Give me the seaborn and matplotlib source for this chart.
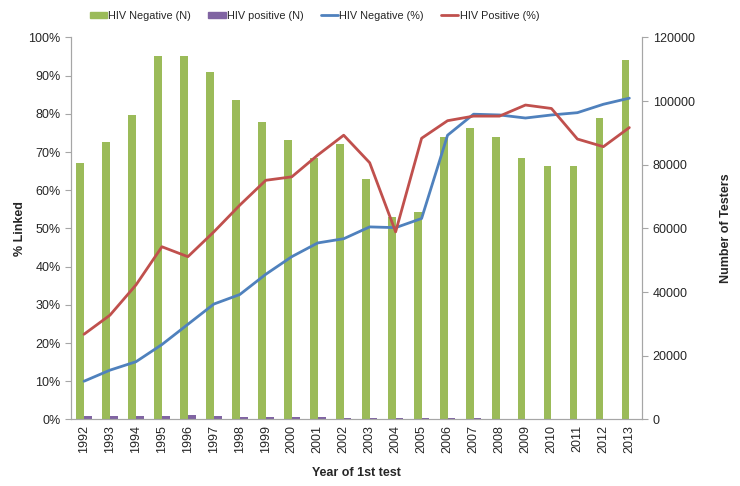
import numpy as np
import pandas as pd
import seaborn as sns
import matplotlib.pyplot as plt
from matplotlib.ticker import FuncFormatter, MultipleLocator

years = list(range(1992, 2014))
neg_n = [80600, 87200, 95500, 114100, 114100, 109000, 100200, 93300, 87900, 82000, 86500,
         75600, 63500, 65100, 88700, 91400, 88700, 82200, 79600, 79600, 94700, 112900]
pos_n = [1200, 1000, 1200, 1200, 1400, 1200, 900, 800, 700, 700, 600,
         600, 600, 400, 400, 300, 250, 250, 200, 200, 200, 150]
neg_pct = [10.0, 12.9, 15.1, 19.6, 24.9, 30.2, 32.7, 38.0, 42.6, 46.2, 47.3,
           50.4, 50.2, 52.6, 74.4, 79.9, 79.7, 78.9, 79.7, 80.3, 82.5, 84.1]
pos_pct = [22.3, 27.3, 35.2, 45.2, 42.6, 49.1, 56.1, 62.6, 63.5, 69.2, 74.4,
           67.2, 49.1, 73.6, 78.2, 79.4, 79.4, 82.3, 81.4, 73.4, 71.4, 76.4]

green = '#9BBB59'
purple = '#8064A2'
blue = '#4F81BD'
red = '#C0504D'
grey = '#A6A6A6'

sns.set_style('white')
plt.rcParams['font.family'] = ['Liberation Sans', 'DejaVu Sans']

bars = pd.DataFrame({
    'year': [str(y) for y in years] * 2,
    'n': neg_n + pos_n,
    'status': ['HIV Negative (N)'] * len(years) + ['HIV positive (N)'] * len(years),
})
pos = np.arange(len(years))

fig = plt.figure(figsize=(7.4, 4.86), dpi=100)
ax = fig.add_axes([0.096, 0.137, 0.772, 0.786])
ax2 = ax.twinx()

sns.barplot(data=bars, x='year', y='n', hue='status', ax=ax2, width=0.6,
            palette=[green, purple], saturation=1, legend=False, linewidth=0)
sns.lineplot(x=pos, y=neg_pct, ax=ax, color=blue, linewidth=2, legend=False)
sns.lineplot(x=pos, y=pos_pct, ax=ax, color=red, linewidth=2, legend=False)

# lines above the bars
ax.set_zorder(ax2.get_zorder() + 1)
ax.patch.set_visible(False)

ax.set_xlim(-0.5, len(years) - 0.5)
ax2.set_xlim(-0.5, len(years) - 0.5)
ax.set_ylim(0, 100)
ax2.set_ylim(0, 120000)
ax.yaxis.set_major_locator(MultipleLocator(10))
ax.yaxis.set_major_formatter(FuncFormatter(lambda v, p: f'{int(v)}%'))
ax2.yaxis.set_major_locator(MultipleLocator(20000))

ax.set_xticks(pos)
ax.set_xticklabels([str(y) for y in years], rotation=90, fontsize=9)
ax.set_xticks(np.arange(-0.5, len(years)), minor=True)
ax.tick_params(axis='x', which='major', length=0, pad=4)
ax.tick_params(axis='x', which='minor', length=4, color=grey, direction='out')
ax.tick_params(axis='y', length=4, color=grey, direction='out', labelsize=9, left=True)
ax2.tick_params(axis='y', length=4, color=grey, direction='out', labelsize=9, right=True)
ax2.tick_params(axis='x', bottom=False, labelbottom=False)
ax2.set_xlabel('')

for a in (ax, ax2):
    for s in a.spines.values():
        s.set_color(grey)
    a.spines['top'].set_visible(False)

ax.set_xlabel('Year of 1st test', fontsize=9, fontweight='bold', labelpad=10)
ax.set_ylabel('% Linked', fontsize=9, fontweight='bold', labelpad=2)
ax2.set_ylabel('Number of Testers', fontsize=9, fontweight='bold', labelpad=18)

handles = [plt.Rectangle((0, 0), 1, 1, color=green), plt.Rectangle((0, 0), 1, 1, color=purple),
           plt.Line2D([], [], color=blue, linewidth=2), plt.Line2D([], [], color=red, linewidth=2)]
labels = ['HIV Negative (N)', 'HIV positive (N)', 'HIV Negative (%)', 'HIV Positive (%)']
fig.legend(handles, labels, loc='center', bbox_to_anchor=(0.425, 0.968), ncol=4, frameon=False,
           fontsize=7.8, handlelength=1.6, handleheight=0.5, handletextpad=0.1, columnspacing=1.6)

fig.savefig('out.png', dpi=100)
